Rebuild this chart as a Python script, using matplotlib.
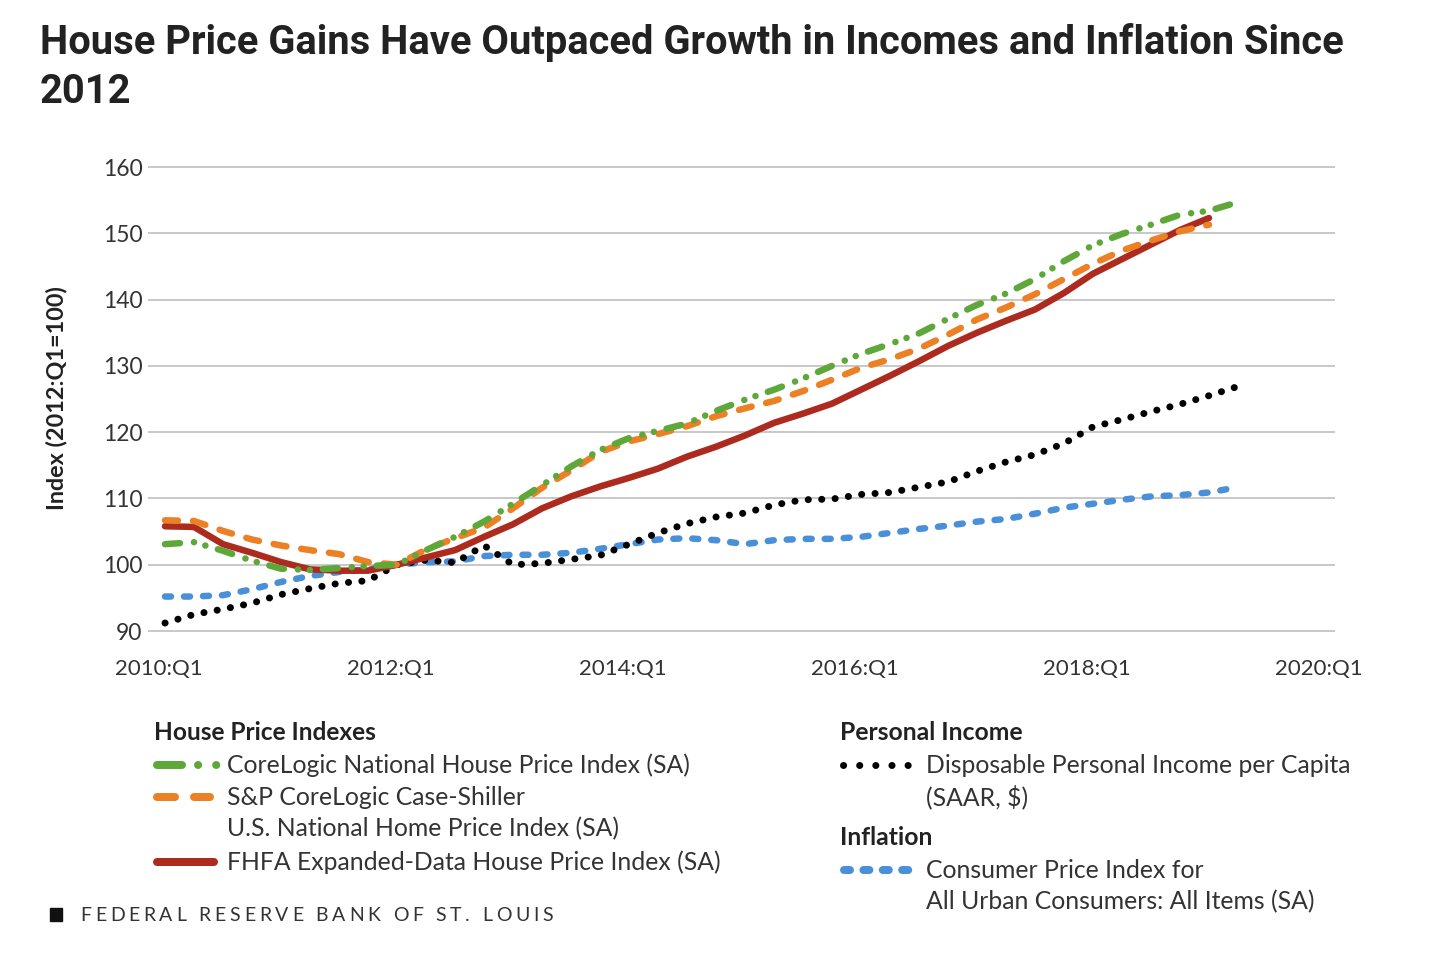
import matplotlib
matplotlib.use('Agg')
import matplotlib.pyplot as plt
from matplotlib.transforms import ScaledTranslation
import numpy as np

plt.rcParams['lines.scale_dashes'] = False

# ---------------- data (quarterly, 2010:Q1 ... ) ----------------
quarter_labels = [f"{y}:Q{q}" for y in range(2010, 2020) for q in range(1, 5)]

corelogic = [103.1, 103.4, 102.1, 100.6, 99.4, 99.2, 99.5, 99.8, 100.0, 102.2,
             104.2, 106.5, 109.2, 112.0, 114.8, 117.3, 119.1, 120.2, 121.3, 123.2,
             124.9, 126.4, 128.1, 130.0, 131.8, 133.3, 134.9, 137.1, 139.2, 140.9,
             143.1, 145.8, 148.2, 149.9, 151.3, 152.8, 153.4, 154.7]
case_shiller = [106.7, 106.6, 105.1, 103.8, 102.9, 102.2, 101.6, 100.4, 100.0, 102.3,
                104.0, 105.6, 108.5, 111.6, 114.2, 117.0, 118.6, 119.7, 120.9, 122.4,
                123.6, 124.7, 126.2, 127.9, 129.7, 131.0, 132.6, 134.7, 137.0, 138.8,
                140.8, 143.1, 145.4, 147.4, 148.9, 150.3, 151.3]
fhfa = [105.8, 105.7, 103.1, 101.8, 100.4, 99.3, 99.1, 99.1, 100.0, 101.1,
        102.2, 104.2, 106.1, 108.5, 110.3, 111.8, 113.1, 114.5, 116.3, 117.8,
        119.5, 121.4, 122.8, 124.3, 126.4, 128.5, 130.7, 133.0, 135.0, 136.8,
        138.5, 141.0, 143.9, 146.1, 148.3, 150.5, 152.3]
income = [91.2, 92.5, 93.3, 94.2, 95.5, 96.4, 97.2, 97.6, 100.0, 100.7,
          100.3, 102.9, 100.0, 100.2, 100.8, 101.4, 103.1, 104.8, 106.2, 107.2,
          107.8, 109.0, 109.8, 109.9, 110.6, 110.9, 111.7, 112.5, 114.1, 115.5,
          116.6, 118.3, 120.8, 121.9, 123.1, 124.2, 125.5, 126.9]
cpi = [95.2, 95.2, 95.4, 96.3, 97.4, 98.3, 98.9, 99.3, 100.0, 100.4,
       100.5, 101.3, 101.5, 101.5, 101.8, 102.4, 103.1, 103.8, 104.0, 103.7,
       103.1, 103.7, 103.9, 103.9, 104.2, 104.8, 105.4, 105.9, 106.5, 106.9,
       107.7, 108.6, 109.2, 109.8, 110.3, 110.5, 110.9, 111.7]

x_tick_labels = ["2010:Q1", "2012:Q1", "2014:Q1", "2016:Q1", "2018:Q1", "2020:Q1"]
y_ticks = [90, 100, 110, 120, 130, 140, 150, 160]

# ---------------- styles ----------------
GREEN = '#5ea83a'
ORANGE = '#ec8025'
RED = '#ad2a1f'
BLACK = '#000000'
BLUE = '#4a90d9'
TXT = '#333333'
FONT = 'Lato'

PT = 0.72  # px -> pt at dpi 100

W, H = 1436, 972
fig = plt.figure(figsize=(W / 100, H / 100), dpi=100)

# axes in pixel geometry
ax_l, ax_r, ax_t, ax_b = 148, 1335, 160, 640
ax = fig.add_axes([ax_l / W, 1 - ax_b / H, (ax_r - ax_l) / W, (ax_b - ax_t) / H])
x0_px, q_px = 165, 29.0
y160_px, y90_px = 167, 631
ppu = (y90_px - y160_px) / 70.0
ax.set_xlim((ax_l - x0_px) / q_px, (ax_r - x0_px) / q_px)
ax.set_ylim(90 - (ax_b - y90_px) / ppu, 160 + (y160_px - ax_t) / ppu)

for s in ax.spines.values():
    s.set_visible(False)
for yv in y_ticks:
    ax.axhline(yv, color='#c9c9c9', lw=2 * PT, zorder=0)

def xs(arr):
    return np.arange(len(arr))

ax.plot(xs(cpi), cpi, color=BLUE, lw=6.5 * PT, solid_capstyle='round', dash_capstyle='round',
        linestyle=(0, (6 * PT, 13 * PT)), zorder=2)
ax.plot(xs(income), income, color=BLACK, lw=7 * PT, dash_capstyle='round',
        linestyle=(0, (0.1, 13.3 * PT)), zorder=3)
ax.plot(xs(fhfa), fhfa, color=RED, lw=6.5 * PT, solid_capstyle='round', zorder=4)
ax.plot(xs(case_shiller), case_shiller, color=ORANGE, lw=6.5 * PT, dash_capstyle='round',
        linestyle=(0, (13 * PT, 15 * PT)), zorder=5)
ax.plot(xs(corelogic), corelogic, color=GREEN, lw=6.5 * PT, dash_capstyle='round',
        linestyle=(0, (15 * PT, 14 * PT, 0.1, 11.7 * PT, 0.1, 13 * PT)), zorder=6)

xt = [quarter_labels.index(l) if l in quarter_labels else 40 for l in x_tick_labels]
ax.set_xticks(xt)
ax.set_xticklabels(x_tick_labels)
ax.set_yticks(y_ticks)
ax.set_yticklabels([str(v) for v in y_ticks])
ax.tick_params(length=0, labelsize=16.5, labelcolor=TXT)
ax.tick_params(axis='x', labelsize=16)
ax.tick_params(axis='y', pad=4)
ax.tick_params(axis='x', pad=14)
shift = ScaledTranslation(-6 / 100, 0, fig.dpi_scale_trans)
for lab in ax.get_xticklabels():
    lab.set_fontfamily(FONT)
    lab.set_transform(lab.get_transform() + shift)
for lab in ax.get_yticklabels():
    lab.set_fontfamily(FONT)
ax.patch.set_alpha(0)

# y label
fig.text(57 / W, 1 - 398 / H, "Index (2012:Q1=100)", rotation=90, ha='center', va='center',
         fontsize=16.8, fontweight='bold', family=FONT, color='#222222')

# title
TS = 28.7
fig.text(40 / W, 1 - 54 / H, "House Price Gains Have Outpaced Growth in Incomes and Inflation Since",
         fontsize=TS, fontweight='bold', family='Roboto', color='#222222', va='baseline')
fig.text(40 / W, 1 - 103 / H, "2012",
         fontsize=TS, fontweight='bold', family='Roboto', color='#222222', va='baseline')

# ---------------- legend (overlay in pixel coords) ----------------
lax = fig.add_axes([0, 0, 1, 1])
lax.set_xlim(0, W)
lax.set_ylim(H, 0)
lax.axis('off')

def ltext(x, y, s, bold=False, size=17.8):
    lax.text(x, y, s, ha='left', va='center', fontsize=size, family=FONT,
             fontweight='bold' if bold else 'normal', color='#222222' if bold else TXT)

LW = 8 * PT
ltext(154, 732, "House Price Indexes", bold=True, size=17.6)
lax.plot([157, 221], [765, 765], color=GREEN, lw=LW, dash_capstyle='round',
         linestyle=(0, (25 * PT, 16 * PT, 0.1, 18 * PT, 0.1, 30 * PT)))
ltext(227, 765, "CoreLogic National House Price Index (SA)")
lax.plot([157, 210], [797, 797], color=ORANGE, lw=LW, dash_capstyle='round',
         linestyle=(0, (18 * PT, 19 * PT)))
ltext(227, 797, "S&P CoreLogic Case-Shiller")
ltext(227, 829, "U.S. National Home Price Index (SA)")
lax.plot([157, 214], [862, 862], color=RED, lw=LW, solid_capstyle='round')
ltext(227, 862, "FHFA Expanded-Data House Price Index (SA)")

ltext(840, 732, "Personal Income", bold=True, size=17.8)
lax.plot([843, 909], [765, 765], color=BLACK, lw=7 * PT, dash_capstyle='round',
         linestyle=(0, (0.1, 16 * PT)))
ltext(926, 765, "Disposable Personal Income per Capita")
ltext(926, 797, "(SAAR, $)")
ltext(840, 837, "Inflation", bold=True, size=17.8)
lax.plot([844, 909], [870, 870], color=BLUE, lw=LW, dash_capstyle='round',
         linestyle=(0, (6 * PT, 13.4 * PT)))
ltext(926, 870, "Consumer Price Index for")
ltext(926, 902, "All Urban Consumers: All Items (SA)")

# footer
lax.add_patch(plt.Rectangle((50, 908), 12, 13, color='#111111'))
fig.canvas.draw()
renderer = fig.canvas.get_renderer()
foot = "FEDERAL RESERVE BANK OF ST. LOUIS"
cx = 80
track = 3.8
for ch in foot:
    if ch == ' ':
        cx += 8.5
        continue
    t = lax.text(cx, 915, ch, ha='left', va='center', fontsize=14, family=FONT, color='#333333')
    bb = t.get_window_extent(renderer)
    cx += bb.width + track

fig.savefig('out.png', dpi=100)
